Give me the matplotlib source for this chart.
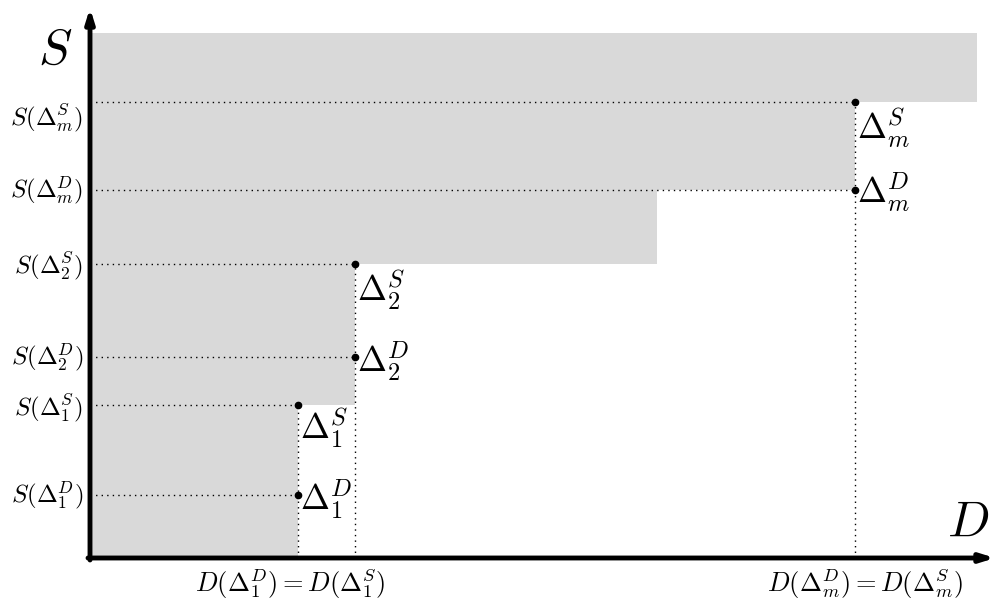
import matplotlib
matplotlib.use("Agg")
import matplotlib.pyplot as plt

plt.rcParams["mathtext.fontset"] = "cm"

# staircase of the shaded region: each band reaches out to STEP_D up to height STEP_S
STEP_D = [208, 265, 567, 765, 887]
STEP_S = [153, 294, 368, 456, 525]

# points Delta on the boundary
POINT_NAMES = [r"$\Delta_1^D$", r"$\Delta_1^S$", r"$\Delta_2^D$", r"$\Delta_2^S$",
               r"$\Delta_m^D$", r"$\Delta_m^S$"]
POINT_D = [208, 208, 265, 265, 765, 765]
POINT_S = [63, 153, 201, 294, 368, 456]

# tick labels on the S axis
S_LABELS = [r"$S(\Delta_1^D)$", r"$S(\Delta_1^S)$", r"$S(\Delta_2^D)$", r"$S(\Delta_2^S)$",
            r"$S(\Delta_m^D)$", r"$S(\Delta_m^S)$"]
# tick labels on the D axis
D_LABELS = [r"$D(\Delta_1^D) = D(\Delta_1^S)$", r"$D(\Delta_m^D) = D(\Delta_m^S)$"]
D_LABEL_AT = [200, 775]

X_MAX = 905
Y_MAX = 550


def main():
    fig = plt.figure(figsize=(9.97, 6.06), dpi=100)
    ax = fig.add_axes([0, 0, 1, 1])
    ax.set_xlim(-90, 907)
    ax.set_ylim(-48, 558)
    ax.axis("off")

    # shaded region: one band per step, stacked from the D axis upwards
    bottom = 0
    for d, s in zip(STEP_D, STEP_S):
        ax.add_patch(plt.Rectangle((0, bottom), d, s - bottom, facecolor="#d9d9d9",
                                   edgecolor="none", zorder=1))
        bottom = s

    # dotted guide lines
    for d, s in zip(POINT_D, POINT_S):
        ax.plot([0, d], [s, s], color="black", linestyle=(0, (1, 3)), lw=1.0, zorder=2)
    for d, s in zip(POINT_D[1::2], POINT_S[1::2]):
        ax.plot([d, d], [0, s], color="black", linestyle=(0, (1, 3)), lw=1.0, zorder=2)

    ax.plot(POINT_D, POINT_S, "o", color="black", markersize=4.5, zorder=4)

    # point labels, offset to the lower right of each point
    offsets = [(1.5, 12), (1.5, -1), (1.5, 12), (1.5, -3), (1.5, 14), (1.5, -3)]
    for name, d, s, (dx, dy) in zip(POINT_NAMES, POINT_D, POINT_S, offsets):
        ax.annotate(name, (d, s), xytext=(dx, dy), textcoords="offset points",
                    ha="left", va="top", fontsize=25, zorder=5)

    # S axis labels
    label_shift = [0, -3, 0, -2, 0, -16]
    for lab, s, sh in zip(S_LABELS, POINT_S, label_shift):
        ax.text(-7, s + sh, lab, ha="right", va="center", fontsize=18)

    # D axis labels
    for lab, d in zip(D_LABELS, D_LABEL_AT):
        ax.text(d, -25, lab, ha="center", va="center", fontsize=19)

    # axes with arrows
    ax.annotate("", xy=(X_MAX, 0), xytext=(-2, 0),
                arrowprops=dict(arrowstyle="-|>,head_length=0.8,head_width=0.25",
                                color="black", lw=3.5, shrinkA=0, shrinkB=0), zorder=6)
    ax.annotate("", xy=(0, Y_MAX), xytext=(0, -2),
                arrowprops=dict(arrowstyle="-|>,head_length=0.8,head_width=0.25",
                                color="black", lw=3.5, shrinkA=0, shrinkB=0), zorder=6)

    ax.text(-35, 508, r"$S$", ha="center", va="center", fontsize=36)
    ax.text(878, 36, r"$D$", ha="center", va="center", fontsize=36)

    fig.savefig("out.png", dpi=100)


if __name__ == "__main__":
    main()
